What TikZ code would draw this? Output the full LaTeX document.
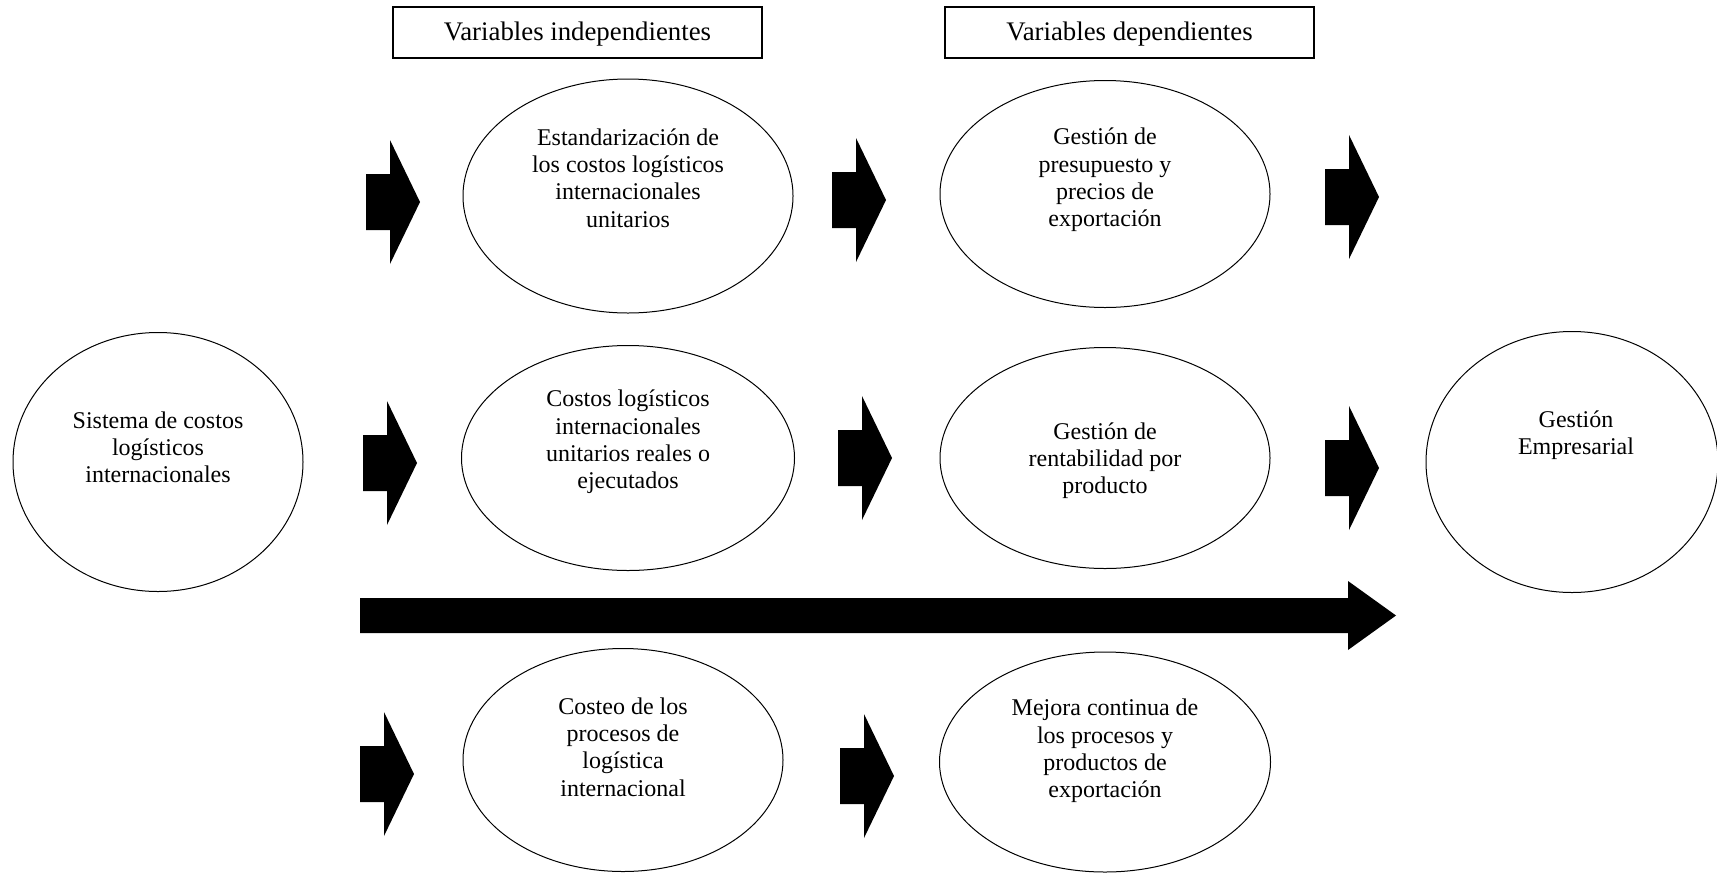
\documentclass[tikz,border=0pt]{standalone}
\usepackage{fontspec}
\setmainfont{Liberation Serif}
\usetikzlibrary{shapes.geometric}
\begin{document}
\begin{tikzpicture}[x=0.5pt,y=-0.5pt,
  oval/.style={draw, ellipse, line width=0.5pt, inner sep=0pt},
  lbl/.style={align=center, font=\fontsize{12}{13.6}\selectfont, inner sep=0pt},
  hdr/.style={draw, line width=0.8pt, minimum width=184.5pt, minimum height=25.5pt,
              inner sep=0pt, font=\fontsize{13.4}{15}\selectfont},
  blockarrow/.pic={\fill (0,-28) -- (24,-28) -- (24,-62) -- (54,0) -- (24,62) -- (24,28) -- (0,28) -- cycle;}
]
\useasboundingbox (0,0) rectangle (1717,873);

% column headers
\node[hdr] (hind) at (577.5,32.5) {\raisebox{-4.2pt}[0pt][0pt]{Variables independientes}};
\node[hdr] (hdep) at (1129.5,32.5) {\raisebox{-4.2pt}[0pt][0pt]{Variables dependientes}};

% ellipses
\node[oval, minimum width=145pt, minimum height=129.5pt] (sis) at (158,462) {};
\node[oval, minimum width=165pt, minimum height=117pt]   (est) at (628,196) {};
\node[oval, minimum width=166.5pt, minimum height=112.5pt] (cos) at (628,458) {};
\node[oval, minimum width=160pt, minimum height=111.5pt] (cst) at (623,760) {};
\node[oval, minimum width=165pt, minimum height=113.5pt] (pre) at (1105,194) {};
\node[oval, minimum width=165pt, minimum height=110.5pt] (ren) at (1105,458) {};
\node[oval, minimum width=165.5pt, minimum height=110pt] (mej) at (1105,762) {};
\node[oval, minimum width=146pt, minimum height=130.5pt] (emp) at (1572,462) {};

% texts inside the ellipses
\node[lbl] (tsis) at (158,447) {Sistema de costos\\logísticos\\internacionales};
\node[lbl] (test) at (628,178) {Estandarización de\\los costos logísticos\\internacionales\\unitarios};
\node[lbl] (tcos) at (628,442) {Costos logísticos\\internacionales\\unitarios reales o\\ejecutados};
\node[lbl] (tcst) at (623,747) {Costeo de los\\procesos de\\logística\\internacional};
\node[lbl] (tpre) at (1105,180) {Gestión de\\presupuesto y\\precios de\\exportación};
\node[lbl] (tren) at (1105,461) {Gestión de\\rentabilidad por\\producto};
\node[lbl] (tmej) at (1105,751) {Mejora continua de\\los procesos y\\productos de\\exportación};
\node[lbl] (temp) at (1576,435) {Gestión\\Empresarial};

% block arrows
\pic at (366,202) {blockarrow};
\pic at (832,200) {blockarrow};
\pic at (1325,197) {blockarrow};
\pic at (363,463) {blockarrow};
\pic at (838,458) {blockarrow};
\pic at (1325,468) {blockarrow};
\pic at (360,774) {blockarrow};
\pic at (840,776) {blockarrow};

% long arrow
\fill (360,598) -- (1348,598) -- (1348,581) -- (1396,615.5) -- (1348,650) -- (1348,633) -- (360,633) -- cycle;
\end{tikzpicture}
\end{document}
